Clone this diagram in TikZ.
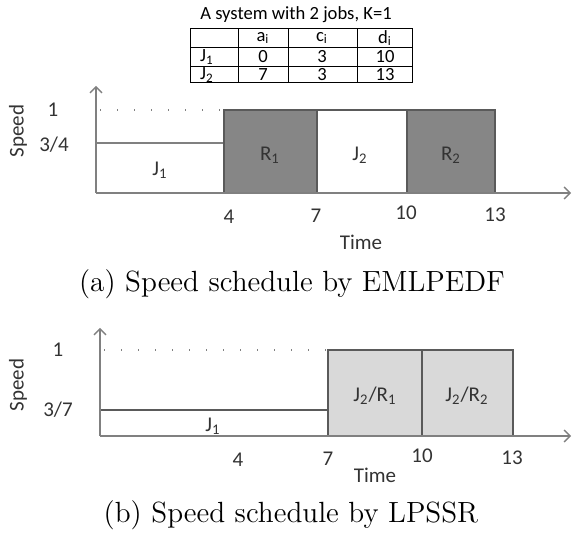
\documentclass[tikz,border=0pt]{standalone}
\usepackage{fontspec}
\newfontfamily\calib{Carlito}
\usetikzlibrary{arrows.meta}
\definecolor{axisgray}{RGB}{128,128,128}
\definecolor{boxedge}{RGB}{90,90,90}
\definecolor{darkfill}{RGB}{134,134,134}
\definecolor{lightfill}{RGB}{217,217,217}
\tikzset{
  lbl/.style={font=\calib\fontsize{10.5}{12}\selectfont,text=black!80,inner sep=0pt},
  tbl/.style={font=\calib\fontsize{9.3}{10}\selectfont,inner sep=0pt},
  capt/.style={font=\fontsize{14.6}{16}\selectfont,inner sep=0pt},
  axis/.style={draw=axisgray,line width=0.7pt},
  slot/.style={draw=boxedge,line width=0.8pt},
  lvl/.style={axisgray,line width=0.7pt,dash pattern=on 0.7pt off 7.8pt}
}
\begin{document}
\begin{tikzpicture}[x=0.5pt,y=-0.5pt,>={Straight Barb[length=3pt,width=6pt]}]
  \useasboundingbox (0,0) rectangle (573,533);
  % job table
  \node[tbl] (title) at (296,15) {A system with 2 jobs, K=1};
  \draw[line width=0.5pt] (190,29) rectangle (412,83);
  \draw[line width=0.5pt] (190,48)--(412,48) (190,67)--(412,67);
  \draw[line width=0.5pt] (238,29)--(238,83) (288,29)--(288,83) (357,29)--(357,83);
  \node[tbl] (ha) at (263,38) {a\textsubscript{i}};
  \node[tbl] (hc) at (322,38) {c\textsubscript{i}};
  \node[tbl] (hd) at (385,38) {d\textsubscript{i}};
  \node[tbl] (r1) at (207,57) {J\textsubscript{1}};
  \node[tbl] (a1) at (263,57) {0};
  \node[tbl] (c1) at (322,57) {3};
  \node[tbl] (d1) at (385,57) {10};
  \node[tbl] (r2) at (207,75) {J\textsubscript{2}};
  \node[tbl] (a2) at (263,75) {7};
  \node[tbl] (c2) at (322,75) {3};
  \node[tbl] (d2) at (385,75) {13};

  % (a) EMLPEDF
  \draw[lvl] (100,110)--(224,110);
  \draw[axisgray,line width=0.8pt] (96,143)--(224,143);
  \draw[slot,fill=darkfill] (224,110) rectangle (317,193);
  \draw[slot,fill=white] (317,110) rectangle (407,193);
  \draw[slot,fill=darkfill] (407,110) rectangle (495,193);
  \coordinate (oa) at (96,193);
  \draw[axis,->] (oa)--(96,86);
  \draw[axis,->] (oa)--(571,193);
  \node[lbl,rotate=90] (spa) at (18,131) {Speed};
  \node[lbl] (ya1) at (53,110) {1};
  \node[lbl] (ya2) at (54,145) {3/4};
  \node[lbl] (ja1) at (160,170) {J\textsubscript{1}};
  \node[lbl] (ra1) at (270,155) {R\textsubscript{1}};
  \node[lbl] (ja2) at (360,155) {J\textsubscript{2}};
  \node[lbl] (ra2) at (451,155) {R\textsubscript{2}};
  \node[lbl] (xa4) at (229,217) {4};
  \node[lbl] (xa7) at (316,216) {7};
  \node[lbl] (xa10) at (406,213) {10};
  \node[lbl] (xa13) at (495,215) {13};
  \node[lbl] (ta) at (361,242) {Time};
  \node[capt] (capa) at (292,284) {(a) Speed schedule by EMLPEDF};

  % (b) LPSSR
  \draw[lvl] (104,350)--(328,350);
  \draw[slot] (100,410)--(328,410);
  \draw[slot,fill=lightfill] (328,350) rectangle (422,436);
  \draw[slot,fill=lightfill] (422,350) rectangle (513,436);
  \coordinate (ob) at (100,436);
  \draw[axis,->] (ob)--(100,328);
  \draw[axis,->] (ob)--(571,436);
  \node[lbl,rotate=90] (spb) at (18,385) {Speed};
  \node[lbl] (yb1) at (58,350) {1};
  \node[lbl] (yb2) at (58,410) {3/7};
  \node[lbl] (jb1) at (213,426) {J\textsubscript{1}};
  \node[lbl] (jr1) at (375,396) {J\textsubscript{2}/R\textsubscript{1}};
  \node[lbl] (jr2) at (467,396) {J\textsubscript{2}/R\textsubscript{2}};
  \node[lbl] (xb4) at (238,460) {4};
  \node[lbl] (xb7) at (328,459) {7};
  \node[lbl] (xb10) at (422,456) {10};
  \node[lbl] (xb13) at (512,458) {13};
  \node[lbl] (tb) at (375,475) {Time};
  \node[capt] (capb) at (291,515) {(b) Speed schedule by LPSSR};
\end{tikzpicture}
\end{document}
